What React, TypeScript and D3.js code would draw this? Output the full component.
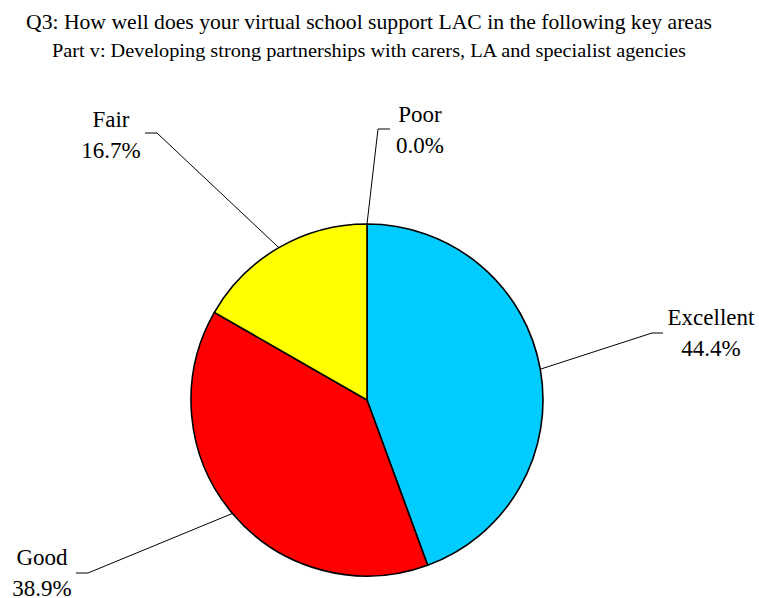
import React from "react";
import * as d3 from "d3";

const categories = ["Excellent", "Good", "Fair", "Poor"];
const values = [44.4, 38.9, 16.7, 0.0];
const colors = ["#00CCFF", "#FF0000", "#FFFF00", "#808080"];
const titleLines = [
  "Q3: How well does your virtual school support LAC in the following key areas",
  "Part v: Developing strong partnerships with carers, LA and specialist agencies",
];

// label layout (text center x, first baseline y, elbow end x, elbow y, elbow start x)
const labelLayout = [
  { tx: 711, ty: 325, ex: 652, ey: 333, hx: 663 },
  { tx: 42, ty: 565, ex: 88, ey: 573, hx: 76 },
  { tx: 111, ty: 127, ex: 157, ey: 133, hx: 145 },
  { tx: 420, ty: 122, ex: 378, ey: 129, hx: 390 },
];

export default function App() {
  const W = 759, H = 598;
  const cx = 367, cy = 400, r = 176;
  const pie = d3.pie<number>().sort(null).value((d) => d);
  const arcs = pie(values);
  const arc = d3.arc<d3.PieArcDatum<number>>().innerRadius(0).outerRadius(r);
  const font = "'Liberation Serif', 'Times New Roman', serif";
  return (
    <svg width={W} height={H} style={{ position: "absolute", left: 0, top: 0 }}>
      <rect width={W} height={H} fill="#fff" />
      <text x={369} y={29} textAnchor="middle" fontFamily={font} fontSize={21} textLength={686} lengthAdjust="spacingAndGlyphs">{titleLines[0]}</text>
      <text x={369} y={57} textAnchor="middle" fontFamily={font} fontSize={19} textLength={634} lengthAdjust="spacingAndGlyphs">{titleLines[1]}</text>
      <g transform={`translate(${cx},${cy})`}>
        {arcs.map((a, i) =>
          a.endAngle - a.startAngle > 0 ? (
            <path key={i} d={arc(a) || ""} fill={colors[i]} stroke="#000" strokeWidth={1.6} strokeLinejoin="round" />
          ) : null
        )}
      </g>
      {arcs.map((a, i) => {
        const mid = (a.startAngle + a.endAngle) / 2;
        const px = cx + r * Math.sin(mid);
        const py = cy - r * Math.cos(mid);
        const L = labelLayout[i];
        return (
          <g key={"l" + i}>
            <polyline points={`${px},${py} ${L.ex},${L.ey} ${L.hx},${L.ey}`} fill="none" stroke="#000" strokeWidth={1} />
            <text x={L.tx} y={L.ty} textAnchor="middle" fontFamily={font} fontSize={23}>{categories[i]}</text>
            <text x={L.tx} y={L.ty + 31} textAnchor="middle" fontFamily={font} fontSize={23}>{values[i].toFixed(1) + "%"}</text>
          </g>
        );
      })}
    </svg>
  );
}
